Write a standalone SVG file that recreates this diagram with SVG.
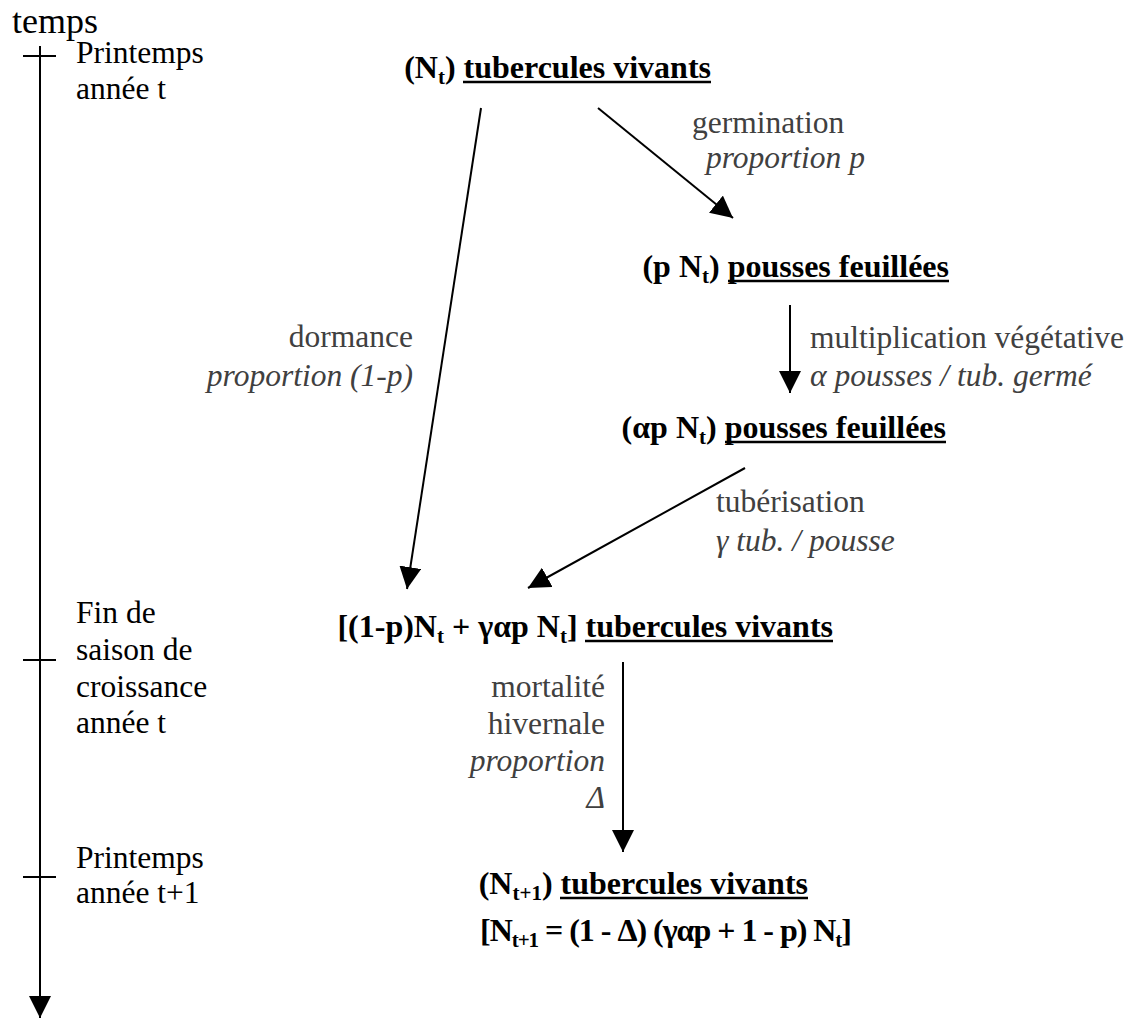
<svg xmlns="http://www.w3.org/2000/svg" width="1138" height="1020" viewBox="0 0 1138 1020" font-family="'Liberation Serif', 'DejaVu Serif', serif">
  <style>
    text { font-family: 'Liberation Serif', 'DejaVu Serif', serif; }
    .axis { font-size: 31.5px; fill: #000; }
    .node { font-size: 32px; font-weight: bold; fill: #000; }
    .lbl { font-size: 31.5px; fill: #404040; }
    .it { font-style: italic; }
    .sub { font-size: 21px; }
    .edge { stroke: #000; stroke-width: 2; fill: none; marker-end: url(#head); }
    .ul { stroke: #000; stroke-width: 2.6; }
    .tick { stroke: #000; stroke-width: 2; }
  </style>
  <defs>
    <marker id="head" markerUnits="userSpaceOnUse" markerWidth="22" markerHeight="22" refX="20" refY="10" orient="auto" viewBox="0 0 20 20">
      <path d="M0,0 L20,10 L0,20 Z" fill="#000"/>
    </marker>
  </defs>

  <!-- time axis -->
  <g id="time-axis">
    <text class="axis" x="12" y="33" style="font-size:36px">temps</text>
    <line x1="40" y1="46" x2="40" y2="1018" class="edge"/>
    <line class="tick" x1="23" y1="56" x2="56" y2="56"/>
    <line class="tick" x1="23" y1="660" x2="56" y2="660"/>
    <line class="tick" x1="23" y1="877" x2="56" y2="877"/>
    <text class="axis" x="76" y="63">Printemps</text>
    <text class="axis" x="76" y="99">année t</text>
    <text class="axis" x="76" y="623">Fin de</text>
    <text class="axis" x="76" y="660">saison de</text>
    <text class="axis" x="76" y="697">croissance</text>
    <text class="axis" x="76" y="733">année t</text>
    <text class="axis" x="76" y="868">Printemps</text>
    <text class="axis" x="76" y="903">année t+1</text>
  </g>

  <!-- stages -->
  <g id="n-tubers-t">
    <text class="node" x="711" y="78" text-anchor="end">(N<tspan class="sub" dy="6">t</tspan><tspan dy="-6">) tubercules vivants</tspan></text>
    <line class="ul" x1="463" y1="82" x2="711" y2="82"/>
  </g>
  <g id="n-shoots">
    <text class="node" x="949" y="277" text-anchor="end">(p N<tspan class="sub" dy="6">t</tspan><tspan dy="-6">) pousses feuillées</tspan></text>
    <line class="ul" x1="728" y1="281" x2="949" y2="281"/>
  </g>
  <g id="n-shoots-mult">
    <text class="node" x="946" y="438" text-anchor="end">(αp N<tspan class="sub" dy="6">t</tspan><tspan dy="-6">) pousses feuillées</tspan></text>
    <line class="ul" x1="725" y1="442" x2="946" y2="442"/>
  </g>
  <g id="n-tubers-end">
    <text class="node" x="833" y="637" text-anchor="end">[(1-p)N<tspan class="sub" dy="6">t</tspan><tspan dy="-6"> + γαp N</tspan><tspan class="sub" dy="6">t</tspan><tspan dy="-6">] tubercules vivants</tspan></text>
    <line class="ul" x1="585" y1="641" x2="833" y2="641"/>
  </g>
  <g id="n-tubers-t1">
    <text class="node" x="808" y="894" text-anchor="end">(N<tspan class="sub" dy="6">t+1</tspan><tspan dy="-6">) tubercules vivants</tspan></text>
    <line class="ul" x1="560" y1="898" x2="808" y2="898"/>
    <text class="node" x="480" y="941" textLength="372" lengthAdjust="spacing">[N<tspan class="sub" dy="6">t+1</tspan><tspan dy="-6"> = (1 - Δ) (γαp + 1 - p) N</tspan><tspan class="sub" dy="6">t</tspan><tspan dy="-6">]</tspan></text>
  </g>

  <!-- transitions -->
  <g id="connectors">
    <line class="edge" x1="598" y1="108" x2="733" y2="218"/>
    <line class="edge" x1="481" y1="108" x2="407" y2="589"/>
    <line class="edge" x1="790" y1="305" x2="790" y2="393"/>
    <line class="edge" x1="745" y1="468" x2="528" y2="588"/>
    <line class="edge" x1="623" y1="662" x2="623" y2="852"/>
  </g>

  <!-- transition labels -->
  <g id="labels">
    <text class="lbl" x="692" y="133">germination</text>
    <text class="lbl it" x="706" y="168">proportion p</text>
    <text class="lbl" x="413" y="347" text-anchor="end">dormance</text>
    <text class="lbl it" x="413" y="386" text-anchor="end">proportion (1-p)</text>
    <text class="lbl" x="810" y="348">multiplication végétative</text>
    <text class="lbl it" x="810" y="386">α pousses / tub. germé</text>
    <text class="lbl" x="716" y="512">tubérisation</text>
    <text class="lbl it" x="716" y="551">γ tub. / pousse</text>
    <text class="lbl" x="605" y="697" text-anchor="end">mortalité</text>
    <text class="lbl" x="605" y="734" text-anchor="end">hivernale</text>
    <text class="lbl it" x="605" y="771" text-anchor="end">proportion</text>
    <text class="lbl it" x="605" y="808" text-anchor="end">Δ</text>
  </g>
</svg>
